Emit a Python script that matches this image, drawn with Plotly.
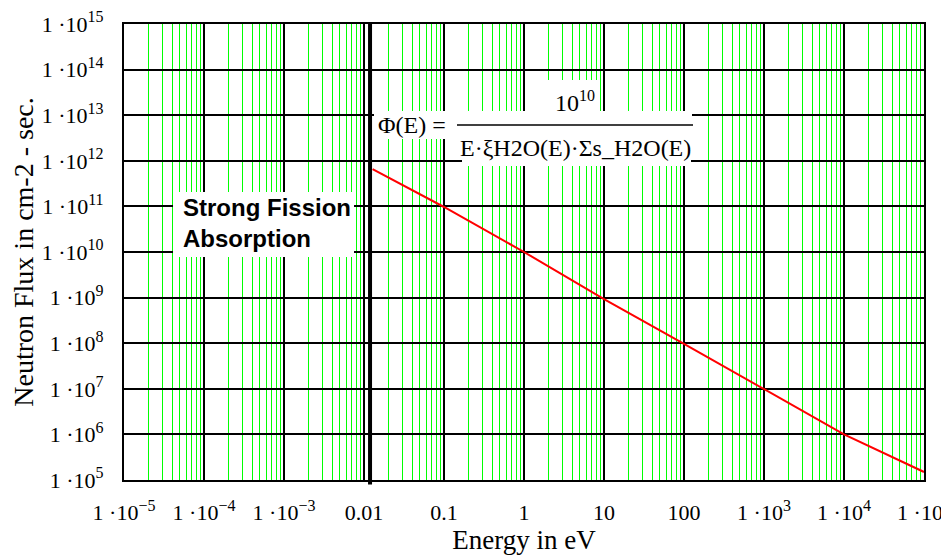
import plotly.graph_objects as go

# ---- data ----
energy_ev = [0.0128, 0.1, 1, 10, 100, 1e3, 1e4, 1e5]
flux = [6.6e11, 9.7e10, 1.0e10, 9.3e8, 9.7e7, 1.0e7, 1.0e6, 1.5e5]

SUP = "<sup><span style='font-size:16px'>%s</span></sup>"
x_tickvals = [1e-5, 1e-4, 1e-3, 1e-2, 1e-1, 1, 10, 100, 1e3, 1e4, 1e5]
x_ticktext = ["1 ·10" + SUP % "−5", "1 ·10" + SUP % "−4", "1 ·10" + SUP % "−3", "0.01", "0.1",
              "1", "10", "100", "1 ·10" + SUP % "3", "1 ·10" + SUP % "4", "1 ·10" + SUP % "5"]
y_tickvals = [1e5, 1e6, 1e7, 1e8, 1e9, 1e10, 1e11, 1e12, 1e13, 1e14, 1e15]
y_ticktext = ["1 ·10" + SUP % p for p in range(5, 16)]

boundary_energy = 0.0119  # thick vertical marker

# ---- layout geometry (page has an 8px body margin) ----
OFF = 8
W, H = 949, 559 - OFF
L, R, T, B = 124 - OFF, 25 + OFF, 24 - OFF, 79
PW, PH = W - L - R, H - T - B


def px(x):
    return (x - OFF - L) / PW


def py(y):
    return (H - B - (y - OFF)) / PH


SERIF = "Liberation Serif, Times New Roman, serif"
SANS = "Liberation Sans, Arial, sans-serif"

fig = go.Figure()
fig.add_trace(go.Scatter(x=energy_ev, y=flux, mode="lines",
                         line=dict(color="#ff0000", width=2), showlegend=False,
                         hoverinfo="skip"))

axis_common = dict(
    type="log", showline=True, linecolor="black", linewidth=2, mirror=True,
    showgrid=True, gridcolor="black", gridwidth=1.5, zeroline=False,
    ticks="", tickfont=dict(family=SERIF, size=22, color="black"),
    ticklabeloverflow="allow",
)

fig.update_xaxes(**axis_common, range=[-5, 5], tickmode="array",
                 tickvals=x_tickvals, ticktext=x_ticktext,
                 minor=dict(showgrid=True, gridcolor="#00ff00", gridwidth=1, dtick="D1"),
                 ticklabelstandoff=12,
                 title=dict(text="Energy in eV", font=dict(family=SERIF, size=27, color="black"),
                            standoff=2))
fig.update_yaxes(**axis_common, range=[5, 15], tickmode="array",
                 tickvals=y_tickvals, ticktext=y_ticktext,
                 ticklabelstandoff=14,
                 title=dict(text="Neutron Flux in cm-2 - sec.",
                            font=dict(family=SERIF, size=28, color="black"), standoff=4))

shapes = [
    # white panels behind the text blocks
    dict(type="rect", xref="paper", yref="paper", x0=px(173), x1=px(354), y0=py(257), y1=py(192),
         fillcolor="white", line=dict(width=0), layer="above"),
    dict(type="rect", xref="paper", yref="paper", x0=px(374), x1=px(692), y0=py(139), y1=py(111),
         fillcolor="white", line=dict(width=0), layer="above"),
    dict(type="rect", xref="paper", yref="paper", x0=px(462), x1=px(691), y0=py(166), y1=py(117),
         fillcolor="white", line=dict(width=0), layer="above"),
    dict(type="rect", xref="paper", yref="paper", x0=px(548), x1=px(600), y0=py(118), y1=py(80),
         fillcolor="white", line=dict(width=0), layer="above"),
    # fraction bar
    dict(type="line", xref="paper", yref="paper", x0=px(457), x1=px(693), y0=py(125), y1=py(125),
         line=dict(color="black", width=1.5), layer="above"),
    # thick boundary line
    dict(type="line", xref="x", yref="paper", x0=boundary_energy, x1=boundary_energy,
         y0=-0.01, y1=1, line=dict(color="black", width=4), layer="above"),
]

annotations = [
    dict(text="<b>Strong Fission<br>Absorption</b>", xref="paper", yref="paper",
         x=px(181), y=py(223), xanchor="left", yanchor="middle", align="left",
         showarrow=False, font=dict(family=SANS, size=24, color="black")),
    dict(text="Φ(E) =", xref="paper", yref="paper", x=px(412), y=py(125),
         xanchor="center", yanchor="middle", showarrow=False,
         font=dict(family=SERIF, size=24, color="black")),
    dict(text="10" + SUP % "10", xref="paper", yref="paper", x=px(575), y=py(101),
         xanchor="center", yanchor="middle", showarrow=False,
         font=dict(family=SERIF, size=24, color="black")),
    dict(text="E·ξH2O(E)·Σs_H2O(E)", xref="paper", yref="paper", x=px(575), y=py(148),
         xanchor="center", yanchor="middle", showarrow=False,
         font=dict(family=SERIF, size=24, color="black")),
]

fig.update_layout(
    width=W, height=H,
    margin=dict(l=L, r=R, t=T, b=B, autoexpand=False),
    paper_bgcolor="white", plot_bgcolor="white",
    shapes=shapes, annotations=annotations, showlegend=False,
)

fig.write_html("out.html")
